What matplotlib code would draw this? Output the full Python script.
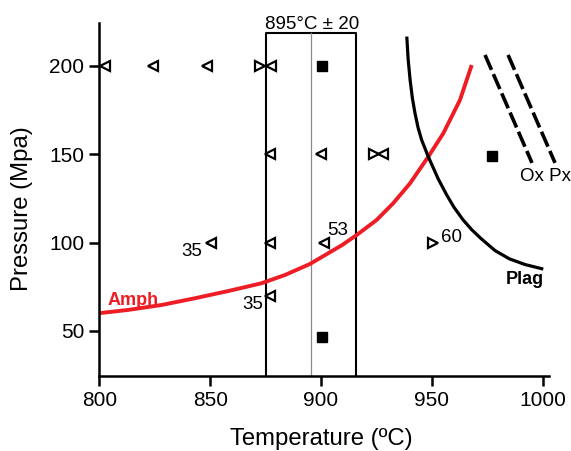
import matplotlib
matplotlib.use("Agg")
import matplotlib.pyplot as plt

plt.rcParams["font.family"] = ["Liberation Sans", "DejaVu Sans"]

# experiment runs: (temperature, pressure)
left_tri_T = [802.5, 824, 848.6, 877.5, 877.2, 900.2, 927.8, 850.5, 877, 901.4, 877]
left_tri_P = [200, 200, 200, 200, 150, 150, 150, 100, 100, 100, 70]
right_tri_T = [872.5, 923.7, 950.7]
right_tri_P = [200, 150, 100]
square_T = [900.5, 977.0, 900.4]
square_P = [200, 149, 46.6]

# point labels
labels = ["35", "35", "53", "60"]
label_T = [841.8, 869.3, 907.7, 958.7]
label_P = [94.7, 64.7, 106.6, 102.6]

# phase boundaries
amph_T = [799.5, 813.0, 828.1, 843.1, 858.2, 873.2, 883.8, 895.0, 902.6, 909.5, 916.1,
          925.1, 932.6, 940.2, 948.4, 955.2, 962.7, 968.0]
amph_P = [60.0, 61.9, 64.7, 68.5, 72.6, 77.0, 81.7, 87.9, 93.5, 98.6, 104.3,
          112.8, 122.3, 133.6, 148.6, 161.9, 180.7, 200.5]
plag_T = [938.7, 939.3, 940.2, 941.2, 942.4, 943.8, 945.4, 948.4, 952.9, 956.7,
          960.0, 964.0, 968.0, 972.0, 978.5, 985.0, 992.0, 1000.3]
plag_P = [216.6, 204.0, 192.0, 182.0, 173.2, 165.0, 158.1, 148.6, 136.0, 127.0,
          120.0, 113.0, 107.3, 102.5, 95.5, 90.8, 87.6, 85.0]
ox_T = [974.0, 995.2]
ox_P = [206.2, 145.1]
px_T = [984.4, 1005.6]
px_P = [206.2, 145.1]

t_center = 895
t_err = 20

fig = plt.figure(figsize=(5.71, 4.51), dpi=100)
ax = fig.add_axes([99.4 / 571, 75 / 451, 465.4 / 571, 353.4 / 451])
ax.set_xlim(800, 1010)
ax.set_ylim(24.5, 224.5)

# temperature window
box_top = 218.8
ax.plot([t_center - t_err, t_center - t_err, t_center + t_err + 1, t_center + t_err + 1],
        [24.5, box_top, box_top, 24.5], color="black", lw=1.5, clip_on=False)
ax.plot([t_center + 0.5, t_center + 0.5], [24.5, box_top], color="#8a8a8a", lw=0.9)
ax.text(t_center + 1, 221, "895°C ± 20", ha="center", va="baseline", fontsize=13.5)

ax.plot(amph_T, amph_P, color="#ee1c25", lw=2.8, solid_capstyle="butt",
        solid_joinstyle="round")
ax.plot(plag_T, plag_P, color="black", lw=2.3, solid_capstyle="butt",
        solid_joinstyle="round")
ax.plot(ox_T, ox_P, color="black", lw=2.6, dashes=(4.5, 1.3), clip_on=False)
ax.plot(px_T, px_P, color="black", lw=2.6, dashes=(4.5, 1.3), clip_on=False)

ax.plot(left_tri_T, left_tri_P, ls="none", marker="<", ms=7.2, mfc="white",
        mec="black", mew=1.6, clip_on=False, zorder=5)
ax.plot(right_tri_T, right_tri_P, ls="none", marker=">", ms=7.2, mfc="white",
        mec="black", mew=1.6, clip_on=False, zorder=5)
ax.plot(square_T, square_P, ls="none", marker="s", ms=7.5, color="black", zorder=5)

for s, x, y in zip(labels, label_T, label_P):
    ax.text(x, y, s, ha="center", va="center", fontsize=13.5)

ax.text(803.9, 67.5, "Amph", color="#ee1c25", fontweight="bold", fontsize=13,
        ha="left", va="center")
ax.text(983.5, 78.9, "Plag", fontweight="bold", fontsize=13, ha="left", va="center")
ax.text(989.8, 137.2, "Ox Px", fontsize=13.5, ha="left", va="center", clip_on=False)

for side in ["top", "right"]:
    ax.spines[side].set_visible(False)
for side in ["left", "bottom"]:
    ax.spines[side].set_linewidth(1.8)
ax.spines["bottom"].set_bounds(800, 1003)

ax.set_xticks([800, 850, 900, 950, 1000])
ax.set_yticks([50, 100, 150, 200])
ax.tick_params(direction="out", length=7.5, width=1.8, labelsize=15, pad=3.5)

ax.set_xlabel("Temperature (ºC)", fontsize=17.2)
ax.set_ylabel("Pressure (Mpa)", fontsize=17.2)
ax.xaxis.set_label_coords(0.476, -0.147)
ax.yaxis.set_label_coords(-0.143, 0.475)

fig.savefig("out.png", dpi=100)
